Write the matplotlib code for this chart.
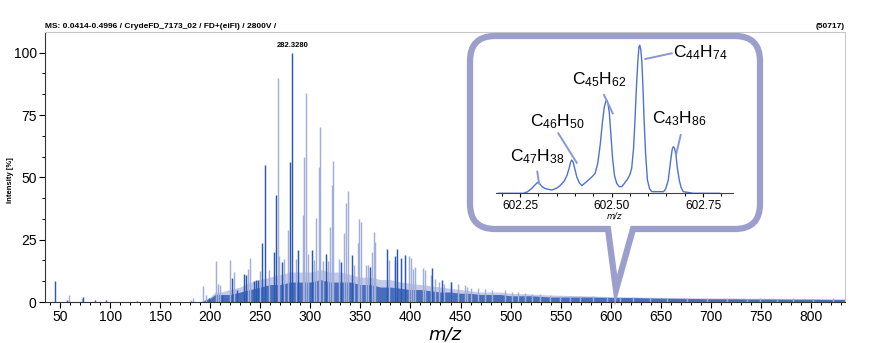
import numpy as np
import matplotlib.pyplot as plt
from matplotlib.path import Path
from matplotlib.patches import PathPatch
from matplotlib.ticker import MultipleLocator, AutoMinorLocator

plt.rcParams['font.family'] = ['Liberation Sans Narrow', 'Liberation Sans', 'DejaVu Sans']
plt.rcParams['mathtext.fontset'] = 'custom'
plt.rcParams['mathtext.rm'] = 'Lato'

# ---- main spectrum data (m/z, intensity %) ----
light_mz = [59, 72, 181, 183, 193, 196, 206, 208, 210, 220, 224, 238, 240, 250, 259,
            268, 269, 274, 278, 286, 293, 294, 296, 298, 304, 306, 309, 310, 313, 318,
            320, 322, 323, 329, 334, 336, 338, 344, 348, 349, 351, 356, 358, 362, 364,
            365, 379, 385, 399, 401, 403, 405, 413, 415, 421, 425, 429, 434, 440, 447,
            454, 456, 460, 467, 474, 481, 494, 501, 507, 514, 521, 529, 539, 549, 559,
            569, 582, 596, 609, 622, 639, 656, 676, 696, 716, 736, 749, 766, 782, 802, 822]
light_h = [3.0, 1.5, 1.0, 1.5, 6.3, 3.0, 16.3, 7.4, 6.7, 16.7, 12.1, 13.4, 17.8, 12.3, 13.0,
           90.0, 18.4, 17.4, 29.0, 17.4, 35.0, 58.0, 84.0, 19.4, 16.7, 33.5, 54.0, 70.0, 16.5, 16.3,
           30.0, 47.0, 56.5, 17.4, 27.5, 39.8, 44.6, 14.7, 23.7, 33.3, 32.0, 14.7, 14.7, 20.0, 28.0,
           24.0, 16.7, 16.7, 18.4, 17.8, 13.4, 14.0, 13.8, 12.7, 10.7, 9.4, 8.0, 7.4, 8.0, 7.4,
           6.7, 6.0, 5.8, 5.8, 5.1, 4.7, 4.9, 4.0, 4.0, 3.6, 3.3, 3.1, 2.8, 2.5, 2.5,
           2.3, 2.3, 2.0, 2.0, 2.0, 1.7, 1.6, 1.5, 1.5, 1.7, 1.3, 1.7, 1.3, 1.5, 1.3, 1.7]

dark_mz = [45, 57, 73, 85, 96, 127, 199, 212, 222, 227, 234, 236, 244, 246, 248,
           252, 255, 264, 266, 272, 280, 282, 288, 302, 316, 331, 342, 360, 377,
           385, 387, 391, 395, 422, 432, 440]
dark_h = [8.3, 1.0, 2.0, 0.7, 0.8, 0.6, 1.6, 3.0, 9.5, 4.7, 11.4, 11.0, 8.4, 8.7, 9.0,
          23.7, 55.0, 20.0, 43.0, 16.1, 56.0, 100.0, 20.8, 21.0, 19.4, 16.1, 18.7, 14.0, 21.4,
          18.5, 21.4, 17.8, 18.7, 13.8, 8.7, 8.0]

# dense low-level background of the spectrum (dark layer and pale haze above it)
base_mz = [190, 200, 205, 210, 220, 230, 240, 250, 260, 270, 280, 290, 300, 310, 320,
           330, 340, 350, 360, 370, 380, 390, 400, 410, 420, 430, 440, 450, 460, 470,
           480, 490, 500, 520, 540, 560, 580, 600, 620, 640, 660, 680, 700, 720, 740,
           760, 780, 800, 820, 835]
base_h = [0, 1.5, 3, 3, 3, 4, 5, 6, 7, 7, 8, 8, 8, 9, 8,
          8, 8, 7, 7, 6, 6, 5.5, 5, 5, 4.5, 4, 4, 3.5, 3.5, 3,
          3, 3, 2.5, 2.5, 2, 2, 2, 1.8, 1.8, 1.6, 1.5, 1.4, 1.3, 1.3, 1.2,
          1.2, 1.1, 1.1, 1.0, 1.0]
haze_h = [0, 2, 4, 4, 5, 6, 8, 9, 10, 11, 12, 12, 12, 13, 12,
          12, 11, 10, 10, 9, 9, 8, 7.5, 7, 6.5, 6, 5.5, 5, 4.5, 4,
          4, 4, 3.5, 3.2, 2.8, 2.6, 2.4, 2.2, 2.0, 1.9, 1.8, 1.7, 1.6, 1.6, 1.5,
          1.5, 1.4, 1.4, 1.3, 1.3]

# ---- inset profile (m/z, relative intensity %) ----
prof_mz = [602.190, 602.259, 602.270, 602.282, 602.292, 602.298, 602.303, 602.310, 602.318,
           602.337, 602.350, 602.359, 602.370, 602.378, 602.384, 602.388, 602.391, 602.395,
           602.400, 602.405, 602.412, 602.419, 602.437, 602.448, 602.455, 602.462, 602.469,
           602.475, 602.480, 602.484, 602.487, 602.490, 602.494, 602.498, 602.503, 602.508,
           602.514, 602.521, 602.528, 602.542, 602.550, 602.555, 602.560, 602.564, 602.568,
           602.572, 602.575, 602.577, 602.580, 602.583, 602.586, 602.589, 602.593, 602.598,
           602.604, 602.610, 602.642, 602.648, 602.655, 602.659, 602.663, 602.666, 602.669,
           602.672, 602.676, 602.680, 602.685, 602.690, 602.696, 602.724, 602.796]
prof_h = [0, 0, 1.0, 3.4, 6.0, 7.4, 6.5, 4.5, 3.2,
          2.2, 3.5, 5.2, 8.0, 12.0, 17.0, 21.0, 22.5, 21.0,
          16.0, 11.0, 7.0, 5.2, 9.0, 11.5, 13.5, 20.0, 33.0,
          48.0, 58.0, 62.0, 63.0, 61.0, 54.0, 40.0, 23.0, 12.0,
          6.7, 4.5, 4.5, 9.0, 12.5, 16.9, 30.0, 49.4, 72.0,
          90.0, 99.0, 100.0, 97.0, 88.0, 70.0, 49.0, 27.0, 9.0,
          3.0, 1.1, 1.1, 3.0, 9.0, 17.0, 25.0, 30.0, 31.5,
          30.5, 26.0, 17.0, 9.0, 4.0, 1.1, 0, 0]

labels = [r'$\mathregular{C_{44}H_{74}}$', r'$\mathregular{C_{45}H_{62}}$',
          r'$\mathregular{C_{46}H_{50}}$', r'$\mathregular{C_{47}H_{38}}$',
          r'$\mathregular{C_{43}H_{86}}$']

W, H = 873, 343
fig = plt.figure(figsize=(W / 100, H / 100), dpi=100)


def fx(x):
    return x / W


def fy(y):
    return 1 - y / H


dark = '#2d58b2'
light = '#a3afdb'

ax = fig.add_axes([fx(45), fy(302), fx(845) - fx(45), fy(32) - fy(302)])
ax.fill_between(base_mz, haze_h, color='#c3cbe9', lw=0)
ax.vlines(light_mz, 0, light_h, colors=light, lw=1.05)
ax.fill_between(base_mz, base_h, color='#3c63b8', lw=0, alpha=0.9)
ax.vlines(dark_mz, 0, dark_h, colors=dark, lw=1.05)
ax.set_xlim(35, 834)
ax.set_ylim(0, 108.3)
ax.xaxis.set_major_locator(MultipleLocator(50))
ax.xaxis.set_minor_locator(MultipleLocator(10))
ax.yaxis.set_major_locator(MultipleLocator(25))
ax.yaxis.set_minor_locator(AutoMinorLocator(3))
ax.tick_params(which='major', length=4, width=0.8, labelsize=10, pad=2)
ax.tick_params(which='minor', length=2.5, width=0.7)
for s in ['top', 'right']:
    ax.spines[s].set_color('#c8c8c8')
ax.spines['left'].set_color('#333333')
ax.spines['bottom'].set_color('#333333')
ax.set_xlabel('m/z', fontsize=13, style='italic', family='DejaVu Sans', labelpad=1)
ax.set_ylabel('Intensity [%]', fontsize=5.5, fontweight='bold')
ax.yaxis.set_label_coords(-0.039, 0.45)
ax.annotate('282.3280', xy=(282, 100), xytext=(0, 3), textcoords='offset points',
            ha='center', va='bottom', fontsize=5.5, fontweight='bold')

fig.text(fx(45), fy(27), 'MS: 0.0414-0.4996 / CrydeFD_7173_02 / FD+(eiFI) / 2800V /',
         fontsize=6, fontweight='bold', va='center', ha='left')
fig.text(fx(845), fy(27), '(50717)', fontsize=6, fontweight='bold', va='center', ha='right')

# ---- speech bubble ----
L, R, T, B, r = 470, 760, 36, 229, 25
tl, tr, tip = 608, 633, (616, 290)
pts = [(L + r, T), (R - r, T), (R, T), (R, T + r), (R, B - r), (R, B), (R - r, B),
       (tr, B), tip, (tl, B), (L + r, B), (L, B), (L, B - r), (L, T + r), (L, T), (L + r, T)]
codes = [Path.MOVETO, Path.LINETO, Path.CURVE3, Path.CURVE3, Path.LINETO, Path.CURVE3, Path.CURVE3,
         Path.LINETO, Path.LINETO, Path.LINETO, Path.LINETO, Path.CURVE3, Path.CURVE3,
         Path.LINETO, Path.CURVE3, Path.CURVE3]
bubble = Path([(fx(x), fy(y)) for x, y in pts], codes)
fig.add_artist(PathPatch(bubble, facecolor='white', edgecolor='#9c9fcb', lw=4.5,
                         joinstyle='miter', transform=fig.transFigure, zorder=1))

# ---- inset ----
axi = fig.add_axes([fx(496), fy(193.3), fx(733) - fx(496), fy(37.9) - fy(193.3)], zorder=2)
axi.patch.set_alpha(0)
axi.plot(prof_mz, prof_h, color='#4d72d2', lw=1.0)
axi.set_xlim(602.184, 602.832)
axi.set_ylim(0, 105)
axi.xaxis.set_major_locator(MultipleLocator(0.25))
axi.xaxis.set_minor_locator(MultipleLocator(0.05))
axi.xaxis.set_major_formatter(plt.FormatStrFormatter('%.2f'))
axi.set_yticks([])
for s in ['top', 'right', 'left']:
    axi.spines[s].set_visible(False)
axi.spines['bottom'].set_color('#444444')
axi.tick_params(which='major', length=3, width=0.8, labelsize=8.5, pad=1.5)
axi.tick_params(which='minor', length=2, width=0.7)
axi.set_xlabel('m/z', fontsize=6, style='italic', family='DejaVu Sans', labelpad=0)

label_pos = [(673, 53), (572, 80), (530, 121.7), (510, 156.7), (651.7, 118.3)]
leaders = [((671.7, 53.3), (645.3, 59)), ((604, 95), (612.7, 113.3)),
           ((558.3, 133.3), (576.7, 162.7)), ((537.3, 171.7), (539, 183.3)),
           ((680.7, 135), (676, 155))]
for lab, (x, y), (p0, p1) in zip(labels, label_pos, leaders):
    fig.text(fx(x), fy(y), lab, fontsize=12.5, ha='left', va='center', zorder=3)
    fig.add_artist(plt.Line2D([fx(p0[0]), fx(p1[0])], [fy(p0[1]), fy(p1[1])],
                              color='#8797d8', lw=1.4, zorder=3))

fig.savefig('out.png', dpi=100)
